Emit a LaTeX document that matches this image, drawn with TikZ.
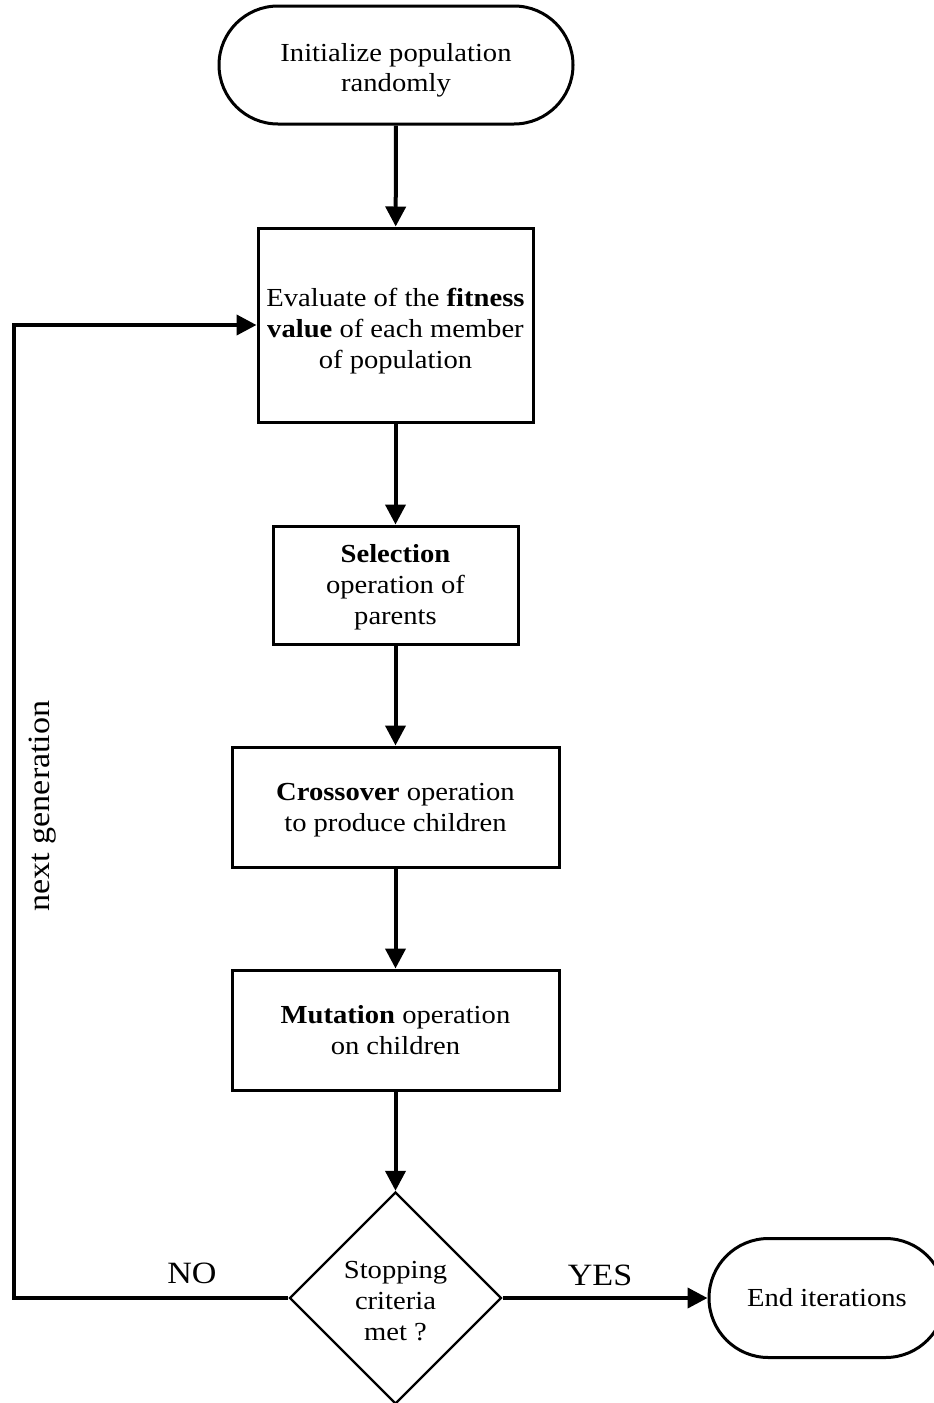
\documentclass[tikz,border=0pt]{standalone}
\usepackage{fontspec}
\setmainfont{Liberation Serif}[FakeStretch=1.1]
\usetikzlibrary{arrows.meta,shapes.geometric,shapes.misc}
\begin{document}
\begin{tikzpicture}[x=1pt,y=-1pt,
  every node/.style={font=\fontsize{26}{31}\selectfont, align=center, inner sep=0pt},
  procbox/.style={draw, line width=3pt, rectangle},
  terminal/.style={draw, line width=3pt, rounded rectangle},
  decision/.style={draw, line width=2.4pt, diamond, minimum width=212pt, minimum height=212pt},
  flow/.style={line width=4pt, -{Triangle[length=20pt,width=20pt]}},
  tag/.style={font=\fontsize{31}{36}\selectfont}]
\useasboundingbox (0,0) rectangle (934,1403);

% process steps
\node[terminal, minimum width=354pt, minimum height=118pt] (start) at (396,65) {};
\node[font=\fontsize{26}{30}\selectfont] (starttext) at (396,70) {Initialize population\\randomly};
\node[procbox, minimum width=275pt, minimum height=194pt] (fit) at (395.5,325) {};
\node (fittext) at (395.5,331)
  {Evaluate of the \textbf{fitness}\\\textbf{value} of each member\\of population};
\node[procbox, minimum width=245pt, minimum height=118pt] (sel) at (395.5,585) {};
\node (seltext) at (395.5,587) {\textbf{Selection}\\operation of\\parents};
\node[procbox, minimum width=327pt, minimum height=120pt] (cross) at (395.5,807) {};
\node (crosstext) at (395.5,810) {\textbf{Crossover} operation\\to produce children};
\node[procbox, minimum width=327pt, minimum height=120pt] (mut) at (395.5,1030)
  {\textbf{Mutation} operation\\on children};
\node[decision] (stop) at (395.5,1298) {};
\node (stoptext) at (395.5,1301) {Stopping\\criteria\\met ?};
\node[terminal, minimum width=236pt, minimum height=119pt] (end) at (827,1298) {End iterations};

% corner of the feedback loop
\coordinate (loopbl) at (14,1298);

% connectors
\draw[flow] (start) -- (fit);
\draw[flow] (fit) -- (sel);
\draw[flow] (sel) -- (cross);
\draw[flow] (cross) -- (mut);
\draw[flow] (mut) -- (stop);
\draw[flow] (stop.east) -- (end.west);
\draw[flow] (stop.west) -- (loopbl) |- (fit.west);

% labels
\node[tag] (no) at (192,1273) {NO};
\node[tag] (yes) at (600,1275) {YES};
\node[tag, rotate=90] (nextgen) at (43,806) {next generation};
\end{tikzpicture}
\end{document}
